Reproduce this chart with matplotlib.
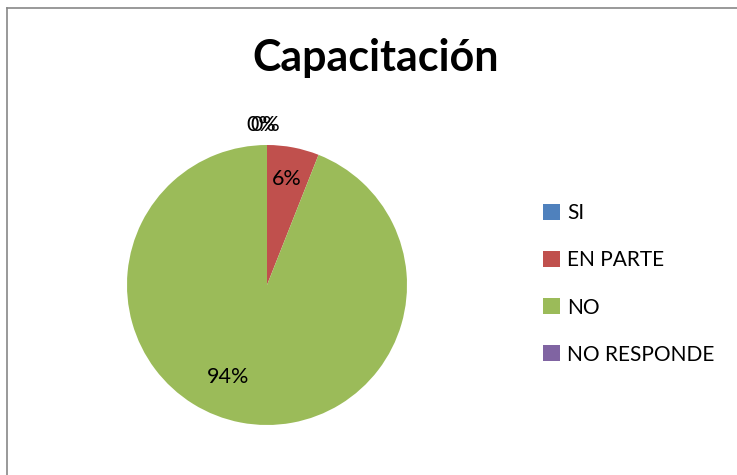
import matplotlib
matplotlib.use('Agg')
import matplotlib.pyplot as plt
from matplotlib.lines import Line2D

plt.rcParams['font.family'] = ['Lato', 'DejaVu Sans']

# Data
categories = ['SI', 'EN PARTE', 'NO', 'NO RESPONDE']
values = [0, 6, 94, 0]
colors = ['#4F81BD', '#C0504D', '#9BBB59', '#8064A2']
title = 'Capacitación'

W, H = 737, 475
fig = plt.figure(figsize=(W / 100, H / 100), dpi=100)

# chart area frame (only left and top edges visible in the crop)
fig.add_artist(Line2D([7 / W, 7 / W], [0, 1 - 8 / H], transform=fig.transFigure,
                      color='#888888', lw=1.2))
fig.add_artist(Line2D([7 / W, 1], [1 - 8 / H, 1 - 8 / H], transform=fig.transFigure,
                      color='#888888', lw=1.2))

# pie centred at (267, 285) px, radius 140 px
cx, cy, r = 267, 285, 140
ax = fig.add_axes([(cx - r) / W, 1 - (cy + r) / H, 2 * r / W, 2 * r / H])
wedges, _ = ax.pie(values, colors=colors, startangle=90, counterclock=False,
                   radius=1, wedgeprops=dict(linewidth=0))
ax.set_xlim(-1, 1)
ax.set_ylim(-1, 1)
ax.set_aspect('equal')
ax.axis('off')

# percentage labels (positions as Excel placed them)
total = sum(values)
label_pos = {'SI': (-0.04, 1.14), 'EN PARTE': (0.14, 0.76),
             'NO': (-0.28, -0.66), 'NO RESPONDE': (-0.015, 1.14)}
for cat, v in zip(categories, values):
    x, y = label_pos[cat]
    ax.text(x, y, f'{round(100 * v / total)}%', ha='center', va='center',
            fontsize=15.5, color='black', clip_on=False)

fig.text(376 / W, 1 - 58 / H, title, ha='center', va='center',
         fontsize=31, fontweight='bold')

fig.legend(wedges, categories, loc='center left',
           bbox_to_anchor=(533 / W, 1 - 284 / H), frameon=False,
           fontsize=15, handlelength=0.8, handleheight=0.8,
           handletextpad=0.35, labelspacing=1.3, borderpad=0)

fig.savefig('out.png', dpi=100)
